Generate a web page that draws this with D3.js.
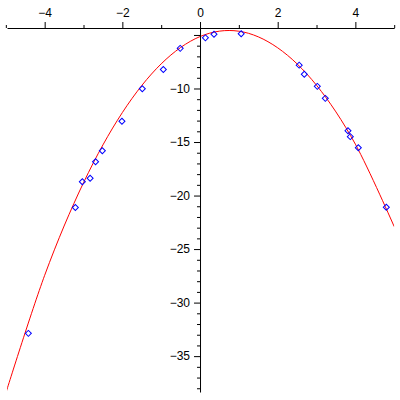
<!DOCTYPE html>
<html>
<head>
<meta charset="utf-8">
<script src="https://cdn.jsdelivr.net/npm/d3@7"></script>
<style>
    body { margin: 0; background: #fff; }
    .axis text { font-family: "Liberation Sans", Arial, sans-serif; font-size: 12px; fill: #000; }
</style>
</head>
<body>
<div id="chart"></div>
<script>
// Fitted curve
const curveX = [-5, -4, -3, -2, -1, 0, 1, 2, 3, 4, 5]
const curveY = [-38.45, -27.45, -18.8, -12.25, -7.7, -5.15, -4.65, -6.2, -9.7, -15.2, -22.9]

// Data points (blue diamonds)
const pointX = [-4.42, -3.21, -3.03, -2.83, -2.69, -2.515, -2.01, -1.486, -0.945, -0.51,
    0.139, 0.36, 1.06, 2.554, 2.685, 3.02, 3.226, 3.81, 3.87, 4.076, 4.797]
const pointY = [-32.87, -21.12, -18.71, -18.39, -16.84, -15.81, -13.06, -10.02, -8.23, -6.25,
    -5.27, -4.93, -4.88, -7.82, -8.67, -9.8, -10.92, -13.94, -14.5, -15.53, -21.1]

// Ticks
const xMajorTicks = [-4, -2, 0, 2, 4]
const xMinorTicks = [-5, -3, -1, 1, 3, 5]
const yMajorTicks = [-5, -10, -15, -20, -25, -30, -35]
const yMinorTicks = d3.range(-6, -39, -1).filter(v => v % 5 !== 0)

function plotChart() {

    const dimensions = {
        width: 400,
        height: 400,
        xDomain: [-4.97, 5],
        yDomain: [-38.35, -4.35],
        left: 7,
        right: 394.2,
        top: 28,
        bottom: 392
    }

    const wrapper = d3.select("#chart").append("svg")
        .attr("width", dimensions.width)
        .attr("height", dimensions.height)

    // Scales
    const xScale = d3.scaleLinear()
        .domain(dimensions.xDomain)
        .range([dimensions.left, dimensions.right])

    const yScale = d3.scaleLinear()
        .domain(dimensions.yDomain)
        .range([dimensions.bottom, dimensions.top])

    // Clip for curve
    wrapper.append("clipPath")
        .attr("id", "plotArea")
        .append("rect")
        .attr("x", dimensions.left)
        .attr("y", dimensions.top)
        .attr("width", dimensions.right - dimensions.left)
        .attr("height", dimensions.bottom - dimensions.top)

    // Curve
    const curveData = curveX.map((x, i) => ({ x, y: curveY[i] }))
    const lineGenerator = d3.line()
        .x(d => xScale(d.x))
        .y(d => yScale(d.y))
        .curve(d3.curveCatmullRom.alpha(0))

    wrapper.append("path")
        .datum(curveData)
        .attr("clip-path", "url(#plotArea)")
        .attr("fill", "none")
        .attr("stroke", "#ff0000")
        .attr("stroke-width", 1)
        .attr("d", lineGenerator)

    // Points
    const points = pointX.map((x, i) => ({ x, y: pointY[i] }))
    const diamond = d3.symbol().type(d3.symbolSquare).size(18)

    wrapper.selectAll(".pt")
        .data(points)
        .enter().append("path")
        .attr("class", "pt")
        .attr("d", diamond)
        .attr("transform", d => `translate(${xScale(d.x)},${yScale(d.y)}) rotate(45)`)
        .attr("fill", "none")
        .attr("stroke", "#0000ff")
        .attr("stroke-width", 1)

    // x axis (top)
    const xAxisMinor = wrapper.append("g")
        .attr("class", "axis")
        .attr("transform", `translate(0, ${dimensions.top})`)
        .call(d3.axisTop(xScale).tickValues(xMinorTicks).tickSize(3).tickSizeOuter(0).tickFormat(""))
    xAxisMinor.select(".domain").remove()

    wrapper.append("g")
        .attr("class", "axis")
        .attr("transform", `translate(0, ${dimensions.top})`)
        .call(d3.axisTop(xScale).tickValues(xMajorTicks).tickSize(6).tickSizeOuter(0).tickPadding(5))

    // y axis (at x = 0)
    const yAxisMinor = wrapper.append("g")
        .attr("class", "axis")
        .attr("transform", `translate(${xScale(0)}, 0)`)
        .call(d3.axisLeft(yScale).tickValues(yMinorTicks).tickSize(3).tickSizeOuter(0).tickFormat(""))
    yAxisMinor.select(".domain").remove()

    wrapper.append("g")
        .attr("class", "axis")
        .attr("transform", `translate(${xScale(0)}, 0)`)
        .call(d3.axisLeft(yScale)
            .tickValues(yMajorTicks)
            .tickSize(6)
            .tickSizeOuter(0)
            .tickPadding(4)
            .tickFormat(d => d === -5 ? "" : d3.format("d")(d)))

    wrapper.selectAll(".axis .domain").attr("stroke", "#000")
    wrapper.selectAll(".axis line").attr("stroke", "#000")
}

plotChart()
</script>
</body>
</html>
